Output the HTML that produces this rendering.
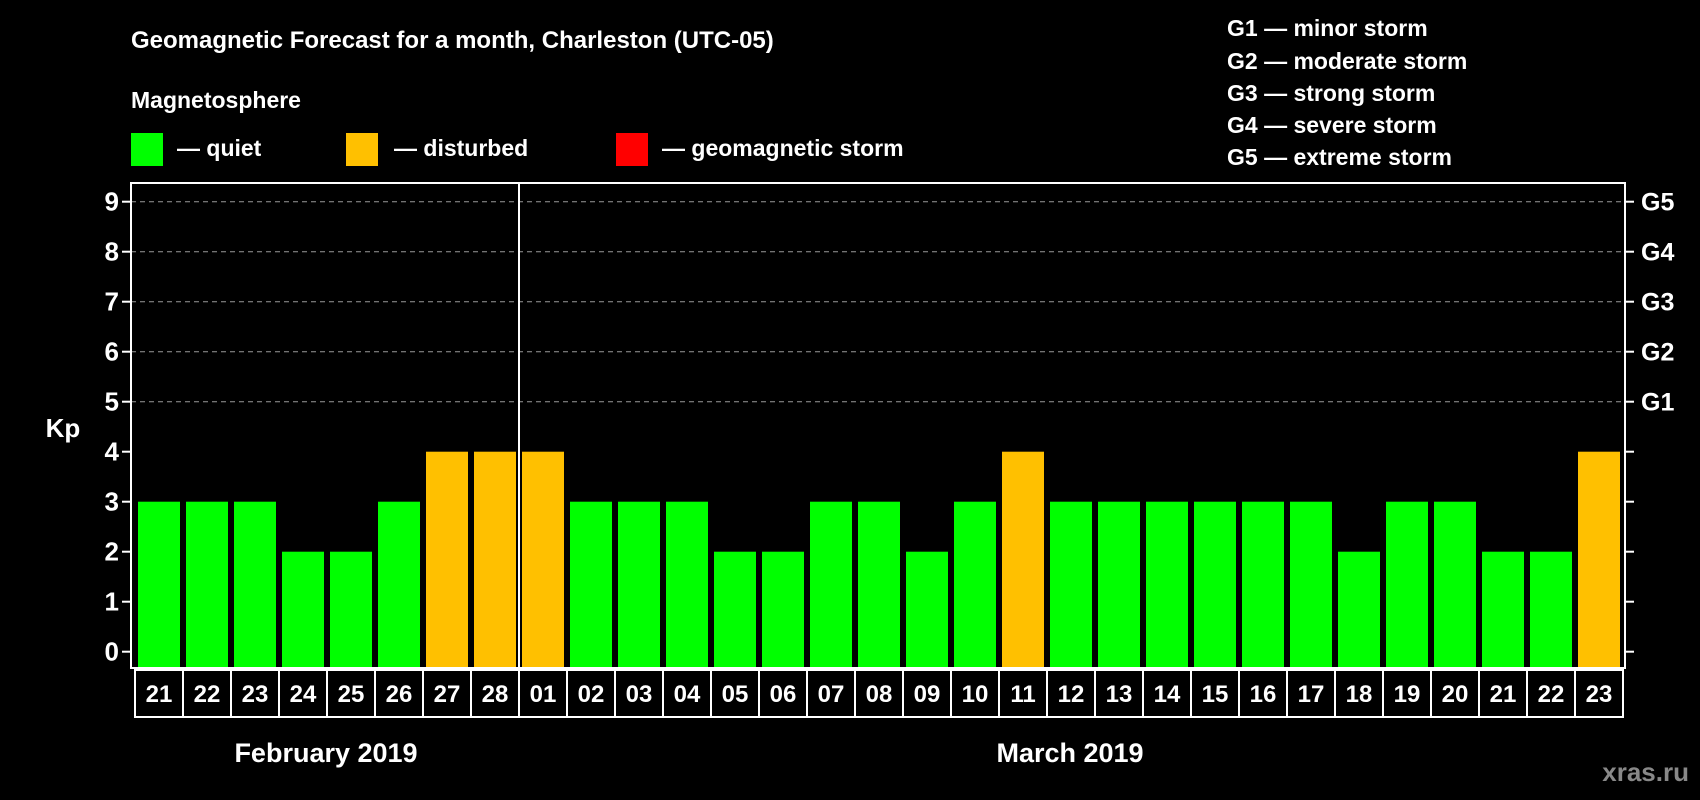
<!DOCTYPE html>
<html><head><meta charset="utf-8"><style>
html,body{margin:0;padding:0;background:#000;}
svg{display:block;font-family:"Liberation Sans",Arial,sans-serif;font-weight:bold;}
</style></head><body>
<svg id="chart" width="1700" height="800" viewBox="0 0 1700 800" xmlns="http://www.w3.org/2000/svg">
<rect x="0" y="0" width="1700" height="800" fill="#000"/>
<text x="131" y="48" fill="#fff" font-size="24">Geomagnetic Forecast for a month, Charleston (UTC-05)</text>
<text x="131" y="108" fill="#fff" font-size="23">Magnetosphere</text>
<g>
<rect x="131" y="133" width="32" height="33" fill="#00ff00"/>
<text x="177" y="156" fill="#fff" font-size="23">— quiet</text></g>
<g>
<rect x="346" y="133" width="32" height="33" fill="#ffc000"/>
<text x="394" y="156" fill="#fff" font-size="23">— disturbed</text></g>
<g>
<rect x="616" y="133" width="32" height="33" fill="#ff0000"/>
<text x="662" y="156" fill="#fff" font-size="23">— geomagnetic storm</text></g>
<g font-size="23" fill="#fff">
<text x="1227" y="36">G1 — minor storm</text>
<text x="1227" y="69">G2 — moderate storm</text>
<text x="1227" y="101">G3 — strong storm</text>
<text x="1227" y="133">G4 — severe storm</text>
<text x="1227" y="165">G5 — extreme storm</text>
</g>
<text x="63" y="437" fill="#fff" font-size="26" text-anchor="middle">Kp</text>
<g id="grid"></g><g id="bars"></g><g id="axes"></g><g id="cells"></g>
<text x="326" y="762" fill="#fff" font-size="27" text-anchor="middle">February 2019</text>
<text x="1070" y="762" fill="#fff" font-size="27" text-anchor="middle">March 2019</text>
<text x="1689" y="781" fill="#888" font-size="26" text-anchor="end">xras.ru</text>
</svg>
<script>
const days = ["21","22","23","24","25","26","27","28","01","02","03","04","05","06","07","08","09","10","11","12","13","14","15","16","17","18","19","20","21","22","23"];
const kpValues = [3,3,3,2,2,3,4,4,4,3,3,3,2,2,3,3,2,3,4,3,3,3,3,3,3,2,3,3,2,2,4];
const yTicks = [0,1,2,3,4,5,6,7,8,9];
const gLabels = ["G1","G2","G3","G4","G5"];
const gLevels = [5,6,7,8,9];

const NS="http://www.w3.org/2000/svg";
const L=131,R=1625,T=183,B=668,X0=135,STEP=(R-2-X0)/days.length;
function y(v){return 651.7-50*v;}
function x(i){return X0+i*STEP;}
function mk(tag,attrs,parent){const e=document.createElementNS(NS,tag);for(const k in attrs)e.setAttribute(k,attrs[k]);parent.appendChild(e);return e;}
const grid=document.getElementById('grid'),bars=document.getElementById('bars'),axes=document.getElementById('axes'),cells=document.getElementById('cells');
yTicks.forEach(v=>{
  if(v>=5){const g=mk('line',{x1:L,x2:R,y1:y(v),y2:y(v),stroke:'#999','stroke-width':1,'stroke-dasharray':'5,4'},grid);
  
  }
  const t1=mk('line',{x1:L-9,x2:L,y1:y(v),y2:y(v),stroke:'#fff','stroke-width':2},axes);
  
  
  const t2=mk('line',{x1:R,x2:R+9,y1:y(v),y2:y(v),stroke:'#fff','stroke-width':2},axes);
  
  
  const lb=mk('text',{x:L-12,y:y(v)+9,fill:'#fff','font-size':26,'text-anchor':'end'},axes);
  lb.textContent=v;
  
  
});
gLabels.forEach((g,i)=>{
  const t=mk('text',{x:1641,y:y(gLevels[i])+9,fill:'#fff','font-size':25},axes);
  t.textContent=g;
  
  
});
kpValues.forEach((v,i)=>{
  const c=v>=5?'#ff0000':(v>=4?'#ffc000':'#00ff00');
  const b=mk('rect',{x:x(i)+3,y:y(v),width:STEP-6,height:B-y(v),fill:c},bars);
  
  
});
const fr=mk('rect',{x:L,y:T,width:R-L,height:B-T,fill:'none',stroke:'#fff','stroke-width':2},axes);


const sep=mk('line',{x1:x(8),x2:x(8),y1:T,y2:B,stroke:'#fff','stroke-width':2},axes);


days.forEach((d,i)=>{
  const r=mk('rect',{x:x(i),y:670,width:STEP,height:47,fill:'#000',stroke:'#fff','stroke-width':2},cells);
  
  
  const t=mk('text',{x:x(i)+STEP/2,y:702,fill:'#fff','font-size':24,'text-anchor':'middle'},cells);
  t.textContent=d;
  
  
});
</script>
</body></html>
